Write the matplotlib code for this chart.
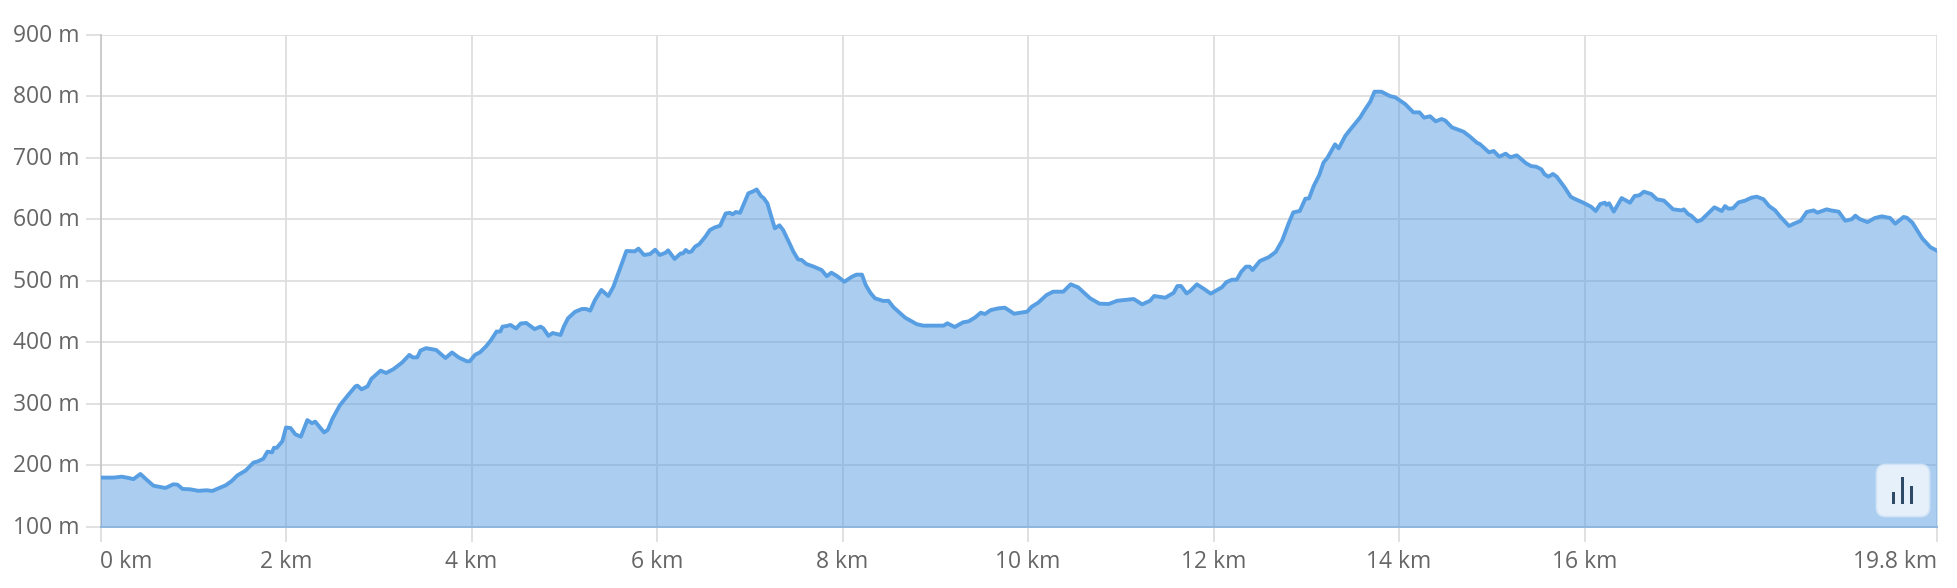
import matplotlib
matplotlib.use('Agg')
import matplotlib.pyplot as plt
from matplotlib.patches import FancyBboxPatch
from matplotlib.transforms import ScaledTranslation

plt.rcParams['font.family'] = ['Open Sans', 'DejaVu Sans']

W, H = 1958, 588

# elevation profile: (km, m)
km = [0.0, 0.14, 0.23, 0.30, 0.355, 0.43, 0.50, 0.57, 0.70, 0.785, 0.83, 0.885, 0.965, 1.055, 1.145, 1.205,
      1.27, 1.35, 1.415, 1.475, 1.565, 1.65, 1.69, 1.755, 1.80, 1.85, 1.87, 1.90, 1.96, 2.00, 2.05, 2.10,
      2.16, 2.23, 2.28, 2.315, 2.41, 2.45, 2.50, 2.58, 2.68, 2.75, 2.77, 2.815, 2.88, 2.92,
      3.02, 3.08, 3.16, 3.25, 3.33, 3.365, 3.415, 3.45, 3.51, 3.62, 3.68, 3.72, 3.79, 3.86, 3.95, 3.98,
      4.04, 4.09, 4.16, 4.21, 4.27, 4.31, 4.335, 4.38, 4.42, 4.48, 4.53, 4.59, 4.68, 4.745, 4.775, 4.83,
      4.875, 4.96, 4.995, 5.04, 5.115, 5.19, 5.235, 5.28, 5.33, 5.40, 5.475, 5.53, 5.67, 5.76, 5.80, 5.86,
      5.925, 5.98, 6.03, 6.09, 6.12, 6.19, 6.255, 6.28, 6.31, 6.34, 6.37, 6.41, 6.455, 6.52, 6.57, 6.625,
      6.68, 6.74, 6.785, 6.815, 6.85, 6.895, 6.985, 7.03, 7.075, 7.12, 7.15, 7.19, 7.27, 7.32, 7.36, 7.43,
      7.47, 7.52, 7.56, 7.61, 7.69, 7.775, 7.83, 7.88, 7.94, 8.02, 8.10, 8.15, 8.21, 8.25, 8.30, 8.35,
      8.44, 8.495, 8.55, 8.675, 8.80, 8.87, 9.09, 9.13, 9.21, 9.30, 9.36, 9.43, 9.49, 9.535, 9.60, 9.68,
      9.75, 9.85, 9.99, 10.04, 10.11, 10.20, 10.27, 10.38, 10.46, 10.54, 10.67, 10.77, 10.87, 10.96, 11.14,
      11.23, 11.315, 11.36, 11.48, 11.57, 11.61, 11.65, 11.71, 11.75, 11.82, 11.90, 11.97, 12.09, 12.14,
      12.20, 12.25, 12.30, 12.35, 12.39, 12.42, 12.50, 12.595, 12.67, 12.74, 12.81, 12.86, 12.93, 12.99,
      13.03, 13.08, 13.14, 13.185, 13.23, 13.31, 13.35, 13.42, 13.47, 13.58, 13.63, 13.69, 13.735, 13.81,
      13.90, 13.96, 14.065, 14.155, 14.22, 14.27, 14.335, 14.395, 14.46, 14.50, 14.57, 14.695, 14.765,
      14.84, 14.87, 14.97, 15.02, 15.08, 15.15, 15.20, 15.27, 15.37, 15.425, 15.48, 15.535, 15.57, 15.61,
      15.66, 15.70, 15.785, 15.85, 15.89, 15.98, 16.07, 16.12, 16.17, 16.22, 16.235, 16.265, 16.315, 16.40,
      16.49, 16.54, 16.59, 16.64, 16.72, 16.78, 16.855, 16.955, 17.045, 17.07, 17.12, 17.15, 17.215, 17.26,
      17.315, 17.40, 17.48, 17.515, 17.55, 17.60, 17.66, 17.73, 17.80, 17.857, 17.93, 17.99, 18.055, 18.11,
      18.205, 18.25, 18.33, 18.395, 18.47, 18.51, 18.61, 18.655, 18.74, 18.81, 18.88, 18.92, 18.965, 19.05,
      19.13, 19.205, 19.295, 19.35, 19.44, 19.475, 19.535, 19.64, 19.73, 19.8]
elev = [179.5, 179.5, 181, 179, 177, 185.4, 175.7, 166.4, 162.6, 168.6, 168, 161, 160.5, 158, 158.9, 157.8,
        162, 167, 174, 183, 191, 204, 205.5, 210, 221.7, 220.6, 228, 228, 238.5, 261, 260, 250,
        246, 273, 268, 270.5, 253, 257, 275, 297, 315.6, 328, 329, 323, 328, 340,
        353.4, 349.6, 356, 366.4, 379, 375, 375, 386, 390, 387, 379, 374, 383, 375, 368.6, 368.6,
        379.4, 383, 393.5, 403, 417, 417, 425, 426, 427.7, 422, 430, 431, 421, 425, 422, 410,
        414.6, 411.4, 425, 438.5, 449, 453.7, 453.7, 451, 468, 484.6, 474.8, 490, 548, 547.4, 551.8, 541.5,
        543, 550, 541.5, 545, 549, 535, 544, 544, 549.6, 546, 547, 555, 559, 571, 582, 586.5,
        589, 609, 610, 607.6, 611.4, 610, 641.8, 644.5, 648, 637.4, 634, 625.5, 584.8, 589.7, 582, 560,
        546.9, 534.4, 533.3, 526.8, 522.5, 517, 507, 512.7, 507.3, 498, 506, 509.5, 509.5, 492.7, 480, 471,
        466.7, 467, 456.4, 439.6, 429, 426.6, 426.6, 430.4, 424.4, 432, 433.6, 440, 447.7, 445.5, 452, 454.7,
        455.8, 446, 449.3, 457.4, 464, 476.4, 481.8, 481.8, 493.8, 488.9, 471, 462.3, 461.8, 467, 469.9,
        461.2, 467, 474.8, 472, 480, 491, 491, 479, 483, 493.8, 486, 478.6, 488.9, 497.5,
        501.3, 501.3, 514.4, 522.5, 522.5, 517, 531.7, 537.9, 546.4, 565, 593, 610.8, 613, 633,
        633.6, 653.6, 671.5, 691.6, 700, 721.4, 714.9, 735, 744.7, 765, 777.2, 790.8, 807, 807,
        800, 797.8, 787, 773.4, 773.4, 764.8, 767, 758.8, 762.6, 759.9, 749, 742, 733.9,
        724, 722, 708.4, 710.6, 701.3, 706.2, 700.3, 703.5, 690.5, 686, 685, 680.7, 672.6, 668.8,
        673.2, 668.8, 651.5, 636.3, 633, 627, 620, 613, 624.4, 626.5, 623, 625.5, 612, 634,
        626.5, 637.4, 638.5, 644.4, 640.6, 632, 630, 615.7, 614, 615.7, 607.6, 605.4, 596, 598.4,
        606.5, 619, 613, 621, 616.8, 617.4, 627, 629.8, 634.7, 636.3, 632, 621, 614, 603.8,
        588.6, 591.9, 597, 611.4, 614, 610.3, 615.7, 614, 611.9, 597.3, 599.5, 605.4, 600, 595,
        601.6, 604.3, 601.6, 592.4, 603.3, 602, 594, 568.6, 554, 548.5]

x_ticks = [0, 2, 4, 6, 8, 10, 12, 14, 16, 19.8]
x_labels = ['0 km', '2 km', '4 km', '6 km', '8 km', '10 km', '12 km', '14 km', '16 km', '19.8 km']
y_ticks = [100, 200, 300, 400, 500, 600, 700, 800, 900]
y_labels = ['100 m', '200 m', '300 m', '400 m', '500 m', '600 m', '700 m', '800 m', '900 m']

# icon in the corner button: bar heights
icon_x = [0, 1, 2]
icon_h = [12.5, 27, 18]

grid_col = '#dedede'
line_col = '#589ee2'
text_col = '#666666'

fig = plt.figure(figsize=(W / 100, H / 100), dpi=100)
ax = fig.add_axes([100.5 / W, (H - 526.5) / H, 1836.5 / W, 492 / H])
ax.set_xlim(0, 19.8)
ax.set_ylim(100, 900)

ax.fill_between(km, elev, 100, color=line_col, alpha=0.5, lw=0, zorder=3)
ax.plot(km, elev, color=line_col, lw=2.8, solid_joinstyle='round', zorder=4)

ax.set_xticks(x_ticks)
ax.set_xticklabels(x_labels)
ax.set_yticks(y_ticks)
ax.set_yticklabels(y_labels)
ax.grid(True, color=grid_col, lw=1.3, zorder=1)
ax.set_axisbelow(True)
ax.tick_params(axis='both', length=11, width=1.3, color=grid_col, labelcolor=text_col, labelsize=16.5)
ax.tick_params(axis='x', pad=6)
ax.tick_params(axis='y', pad=4)
for s in ['top', 'right', 'bottom']:
    ax.spines[s].set_visible(False)
ax.spines['left'].set_color('#c8c8c8')
ax.spines['left'].set_linewidth(1.3)
ax.axhline(100, color='#8fb6de', lw=1.4, zorder=5, clip_on=False)

labels = ax.get_xticklabels()
labels[0].set_ha('left')
labels[-1].set_ha('right')

# y labels sit a touch higher in the original
nudge = ScaledTranslation(0, 1.2 / 72, fig.dpi_scale_trans)
for lab in ax.get_yticklabels():
    lab.set_transform(lab.get_transform() + nudge)

# corner button
btn = fig.add_axes([1875 / W, (H - 518) / H, 56 / W, 55 / H])
btn.set_xlim(1875, 1931)
btn.set_ylim(518, 463)
btn.axis('off')
btn.add_patch(FancyBboxPatch((1876.5, 464.5), 53, 52, boxstyle='round,pad=0,rounding_size=9',
                             fc='#e6f0fb', ec='#d3e4f6', lw=1.2))
btn_axis = fig.add_axes([1891 / W, (H - 504) / H, 24 / W, 30 / H])
btn_axis.set_xlim(-0.25, 2.33)
btn_axis.set_ylim(0, 30)
btn_axis.axis('off')
btn_axis.bar(icon_x, icon_h, width=0.33, color='#2f4a66')

fig.savefig('out.png', dpi=100)
